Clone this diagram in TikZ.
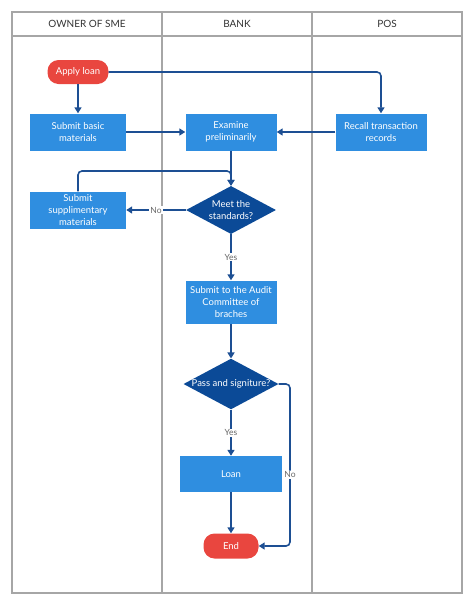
\documentclass[tikz,border=0pt]{standalone}
\usepackage{fontspec}
\setmainfont{Lato}
\usetikzlibrary{positioning, arrows.meta, shapes.geometric}

\definecolor{laneGray}{HTML}{A6A6A6}
\definecolor{procBlue}{HTML}{2F8EE0}
\definecolor{decBlue}{HTML}{0B4A97}
\definecolor{lineBlue}{HTML}{1D4F93}
\definecolor{termRed}{HTML}{E9463F}
\definecolor{lblGray}{HTML}{666666}

\begin{document}
\begin{tikzpicture}[
    x=1pt, y=-1pt,
    lane/.style={draw=laneGray, line width=1.8pt},
    head/.style={font=\fontsize{10}{12}\selectfont, text=black!80},
    proc/.style={rectangle, fill=procBlue, text=white, minimum width=96pt,
                 minimum height=37pt, align=center, inner sep=1pt,
                 font=\fontsize{9.5}{12}\selectfont},
    term/.style={rectangle, rounded corners=11pt, fill=termRed, text=white,
                 minimum height=24pt, font=\fontsize{9.5}{12}\selectfont},
    decision/.style={diamond, fill=decBlue, text=white, aspect=1.875, inner sep=0pt,
                     minimum width=90pt, minimum height=48pt, align=center,
                     font=\fontsize{9.5}{12}\selectfont},
    arrow/.style={-{Triangle[length=6pt, width=7pt]}, draw=lineBlue, line width=1.6pt},
    lbl/.style={fill=white, text=lblGray, inner sep=1pt, font=\fontsize{8.5}{10}\selectfont}
]
    \useasboundingbox (0,0) rectangle (474,606);

    % Swimlanes
    \draw[lane] (12,12) rectangle (462,593);
    \draw[lane] (12,36) -- (462,36);
    \draw[lane] (162,12) -- (162,593);
    \draw[lane] (312,12) -- (312,593);
    \node[head] (hOwner) at (87,24) {OWNER OF SME};
    \node[head] (hBank) at (237,24) {BANK};
    \node[head] (hPos) at (387,24) {POS};

    % Owner lane
    \node[term, minimum width=61pt] (apply) at (78,72) {Apply loan};
    \node[proc] (basic) at (78,132) {Submit basic\\materials};
    \node[proc] (supp) at (78,210) {Submit\\supplimentary\\materials};

    % Bank lane
    \node[proc, minimum width=91pt] (examine) at (231,132) {Examine\\preliminarily};
    \node[decision] (meet) at (231,210) {Meet the\\standards?};
    \node[proc, minimum width=91pt, minimum height=43pt] (audit) at (231,302) {Submit to the Audit\\Committee of\\braches};
    \node[decision] (pass) at (231,384) {Pass and signiture?};
    \node[proc, minimum width=102pt, minimum height=36pt] (loan) at (231,474) {Loan};
    \node[term, minimum width=55pt, minimum height=25pt] (end) at (231,546) {End};

    % POS lane
    \node[proc, minimum width=91pt] (recall) at (381,132) {Recall transaction\\records};

    % Connectors
    \coordinate (merge) at (231,171);
    \coordinate (noTurn) at (290,384);

    \draw[arrow] (apply) -- (basic);
    \draw[arrow, rounded corners=4pt] (apply) -| (recall);
    \draw[arrow] (basic) -- (examine);
    \draw[arrow] (recall) -- (examine);
    \draw[arrow] (examine) -- (meet);
    \draw[arrow, rounded corners=4pt] (supp.north) |- (merge) -- (meet.north);
    \draw[arrow] (meet) -- node[lbl] {No} (supp);
    \draw[arrow] (meet) -- node[lbl] {Yes} (audit);
    \draw[arrow] (audit) -- (pass);
    \draw[arrow] (pass) -- node[lbl] {Yes} (loan);
    \draw[arrow] (loan) -- (end);
    \draw[arrow, rounded corners=4pt] (pass.east) -- (noTurn) |- node[lbl, pos=0.28] {No} (end.east);

\end{tikzpicture}
\end{document}
